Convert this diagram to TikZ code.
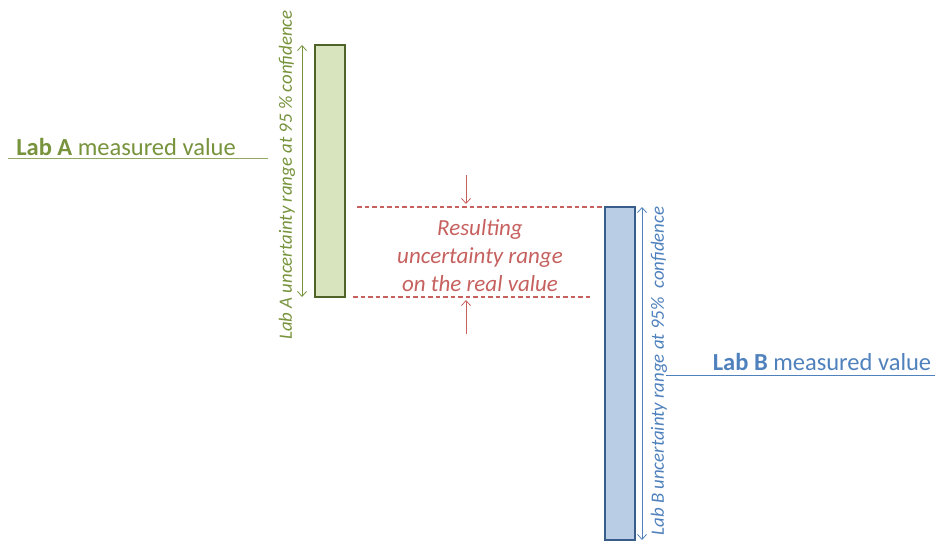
\documentclass[tikz,border=0pt]{standalone}
\usepackage{fontspec}
\setmainfont{Carlito}
\usetikzlibrary{arrows.meta}
\definecolor{gA}{HTML}{77933C}
\definecolor{gAdark}{HTML}{4F6228}
\definecolor{gAfill}{HTML}{D7E4BD}
\definecolor{bB}{HTML}{4F81BD}
\definecolor{bBdark}{HTML}{385D8A}
\definecolor{bBfill}{HTML}{B9CDE5}
\definecolor{rR}{HTML}{C0504D}
\tikzset{
  bar/.style={draw, line width=2pt, inner sep=0pt, minimum width=30pt},
  rng/.style={line width=0.8pt, {Straight Barb[length=5pt,width=9pt]}-{Straight Barb[length=5pt,width=9pt]}},
  onearrow/.style={line width=0.8pt, -{Straight Barb[length=5pt,width=9pt]}},
  rottext/.style={rotate=90, font=\fontsize{18.8}{20}\selectfont\itshape, inner sep=0pt},
  labtext/.style={font=\fontsize{24.5}{28}\selectfont, inner sep=0pt, anchor=base},
  reslabel/.style={font=\fontsize{23}{28}\selectfont\itshape, align=center, inner sep=0pt, text=rR!90},
  resline/.style={rR!90, line width=1.1pt, dash pattern=on 4.5pt off 3pt},
}
\begin{document}
\begin{tikzpicture}[x=1pt,y=-1pt]
\useasboundingbox (0,0) rectangle (935,543);
% Lab A
\node[bar, draw=gAdark, fill=gAfill, minimum height=252pt] (barA) at (330,171) {};
\coordinate (aTop) at (302,45);
\coordinate (aBot) at (302,297);
\draw[rng, gA] (aTop) -- (aBot);
\node[rottext, text=gA] (aText) at (287,175) {Lab A uncertainty range at 95 \% confidence};
\node[labtext, text=gA] (labA) at (126,155) {\textbf{Lab A} measured value};
\coordinate (aL1) at (8,158);
\coordinate (aL2) at (268,158);
\draw[gA!80, line width=1pt] (aL1) -- (aL2);
% Lab B
\node[bar, draw=bBdark, fill=bBfill, minimum height=333pt] (barB) at (620,373.5) {};
\coordinate (bTop) at (642,207);
\coordinate (bBot) at (642,540);
\draw[rng, bB] (bTop) -- (bBot);
\node[rottext, text=bB] (bText) at (659,371) {Lab B uncertainty range at 95\%\ \ confidence};
\node[labtext, text=bB] (labB) at (822,370) {\textbf{Lab B} measured value};
\coordinate (bL1) at (666,375);
\coordinate (bL2) at (935,375);
\draw[bB, line width=1pt] (bL1) -- (bL2);
% Result
\coordinate (rT1) at (357,207);
\coordinate (rB1) at (353,297);
\coordinate (rB2) at (592,297);
\draw[resline] (rT1) -- (rT1 -| barB.west);
\draw[resline] (rB1) -- (rB2);
\coordinate (ar1s) at (466,175);
\coordinate (ar1e) at (466,204);
\coordinate (ar2s) at (466,334);
\coordinate (ar2e) at (466,300);
\draw[onearrow, rR!90] (ar1s) -- (ar1e);
\draw[onearrow, rR!90] (ar2s) -- (ar2e);
\node[reslabel] (res) at (480,256) {Resulting\\uncertainty range\\on the real value};
\end{tikzpicture}
\end{document}
